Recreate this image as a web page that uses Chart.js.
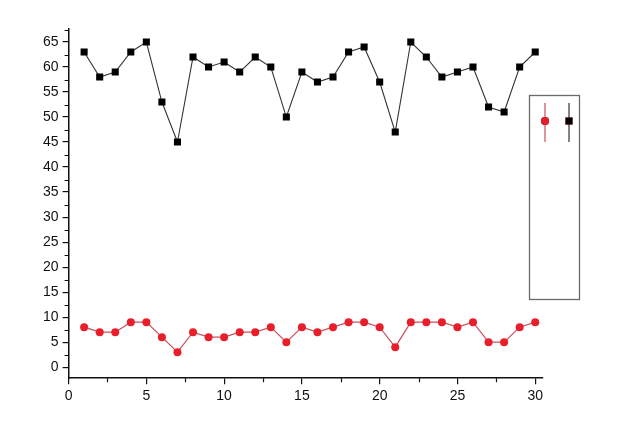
<!DOCTYPE html>
<html>
<head>
<meta charset="utf-8">
<script src="https://cdn.jsdelivr.net/npm/chart.js@4/dist/chart.umd.min.js"></script>
<style>
  html, body { margin: 0; padding: 0; background: #fff; }
  #wrap { width: 640px; height: 442px; position: relative; }
</style>
</head>
<body>
<div id="wrap"><canvas id="chart"></canvas></div>
<script>
// data
const xValues = [1, 2, 3, 4, 5, 6, 7, 8, 9, 10, 11, 12, 13, 14, 15,
  16, 17, 18, 19, 20, 21, 22, 23, 24, 25, 26, 27, 28, 29, 30];
const blackValues = [63, 58, 59, 63, 65, 53, 45, 62, 60, 61, 59, 62, 60, 50, 59,
  57, 58, 63, 64, 57, 47, 65, 62, 58, 59, 60, 52, 51, 60, 63];
const redValues = [8, 7, 7, 9, 9, 6, 3, 7, 6, 6, 7, 7, 8, 5, 8,
  7, 8, 9, 9, 8, 4, 9, 9, 9, 8, 9, 5, 5, 8, 9];
const xTicks = [0, 5, 10, 15, 20, 25, 30];
const yTicks = [0, 5, 10, 15, 20, 25, 30, 35, 40, 45, 50, 55, 60, 65];

const toPoints = (ys) => xValues.map((x, i) => ({ x: x, y: ys[i] }));

// minor ticks halfway between the labelled ones
const minorTicks = {
  id: "minorTicks",
  afterDraw(chart) {
    const ctx = chart.ctx;
    const xs = chart.scales.x;
    const ys = chart.scales.y;
    ctx.save();
    ctx.strokeStyle = "#111";
    ctx.lineWidth = 1.2;
    ctx.beginPath();
    for (let i = 0; i < xTicks.length - 1; i++) {
      const px = Math.round(xs.getPixelForValue((xTicks[i] + xTicks[i + 1]) / 2)) + 0.5;
      ctx.moveTo(px, xs.top);
      ctx.lineTo(px, xs.top + 4);
    }
    const yMinor = [-2.5].concat(yTicks.map((v) => v + 2.5));
    yMinor.forEach((v) => {
      if (v < ys.min || v > ys.max) return;
      const py = Math.round(ys.getPixelForValue(v)) + 0.5;
      ctx.moveTo(ys.right, py);
      ctx.lineTo(ys.right - 4, py);
    });
    ctx.stroke();
    ctx.restore();
  },
};

// the boxed legend on the right, no labels, just symbols
const boxLegend = {
  id: "boxLegend",
  afterDraw(chart) {
    const ctx = chart.ctx;
    const area = chart.chartArea;
    const left = area.right - 14;
    const top = 95;
    const w = 50;
    const h = 204;
    ctx.save();
    ctx.strokeStyle = "#6a6a6a";
    ctx.lineWidth = 1.3;
    ctx.strokeRect(left + 0.5, top + 0.5, w, h);

    chart.data.datasets.forEach((ds, i) => {
      const cx = left + 16 + i * 24;
      ctx.strokeStyle = ds.borderColor;
      ctx.lineWidth = 1.2;
      ctx.beginPath();
      ctx.moveTo(cx, top + 8);
      ctx.lineTo(cx, top + 47);
      ctx.stroke();
      Chart.helpers.drawPoint(ctx, {
        pointStyle: ds.pointStyle,
        radius: ds.pointRadius,
        borderWidth: 0,
        rotation: 0,
      }, cx, top + 26);
      ctx.fillStyle = ds.pointBackgroundColor;
      ctx.fill();
    });
    ctx.restore();
  },
};

const tickFont = { family: "'Liberation Sans', Arial, sans-serif", size: 14 };

new Chart(document.getElementById("chart"), {
  type: "line",
  data: {
    datasets: [
      {
        label: "red",
        data: toPoints(redValues),
        borderColor: "#c9505c",
        borderWidth: 1.2,
        pointStyle: "circle",
        pointRadius: 4,
        pointBackgroundColor: "#e81f2b",
        pointBorderWidth: 0,
        tension: 0,
      },
      {
        label: "black",
        data: toPoints(blackValues),
        borderColor: "#333",
        borderWidth: 1.1,
        pointStyle: "rect",
        pointRadius: 5,
        pointBackgroundColor: "#000",
        pointBorderWidth: 0,
        tension: 0,
      },
    ],
  },
  options: {
    responsive: true,
    maintainAspectRatio: false,
    animation: false,
    devicePixelRatio: 1,
    layout: { padding: { left: 39, right: 97, top: 29, bottom: 33 } },
    plugins: {
      legend: { display: false },
      tooltip: { enabled: false },
    },
    scales: {
      x: {
        type: "linear",
        min: 0,
        max: 30.5,
        afterBuildTicks: (scale) => {
          scale.ticks = xTicks.map((v) => ({ value: v }));
        },
        border: { display: true, color: "#111", width: 1.5 },
        grid: { display: true, drawOnChartArea: false, color: "#111", tickLength: 6, lineWidth: 1.2 },
        ticks: { color: "#111", font: tickFont, padding: 4, maxRotation: 0 },
      },
      y: {
        min: -2.2,
        max: 67.6,
        afterBuildTicks: (scale) => {
          scale.ticks = yTicks.map((v) => ({ value: v }));
        },
        border: { display: true, color: "#111", width: 1.5 },
        grid: { display: true, drawOnChartArea: false, color: "#111", tickLength: 6, lineWidth: 1.2 },
        ticks: { color: "#111", font: tickFont, padding: 4 },
      },
    },
  },
  plugins: [minorTicks, boxLegend],
});
</script>
</body>
</html>
